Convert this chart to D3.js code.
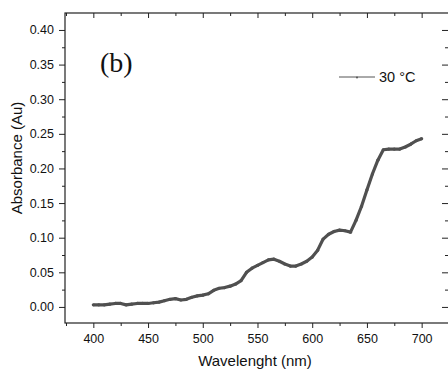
<!DOCTYPE html>
<html><head><meta charset="utf-8">
<script src="https://cdn.jsdelivr.net/npm/d3@7"></script>
<style>body{margin:0;background:#fff;overflow:hidden}svg{display:block}</style>
</head><body>
<script>
const wavelength = [400,405,410,415,420,425,430,435,440,445,450,455,460,465,470,475,480,485,490,495,500,505,510,515,520,525,530,535,540,545,550,555,560,565,570,575,580,585,590,595,600,605,610,615,620,625,630,635,640,645,650,655,660,665,670,675,680,685,690,695,700];
const absorbance = [0.003,0.003,0.003,0.004,0.005,0.005,0.003,0.004,0.005,0.005,0.005,0.006,0.007,0.009,0.011,0.012,0.010,0.011,0.014,0.016,0.017,0.019,0.024,0.027,0.028,0.030,0.033,0.038,0.050,0.056,0.060,0.064,0.068,0.069,0.066,0.062,0.059,0.059,0.062,0.066,0.072,0.082,0.098,0.105,0.109,0.111,0.110,0.108,0.125,0.145,0.169,0.192,0.212,0.227,0.228,0.228,0.228,0.231,0.235,0.240,0.243];
const xTicks = [400,450,500,550,600,650,700];
const xMinor = [375,425,475,525,575,625,675];
const yTicks = [0.00,0.05,0.10,0.15,0.20,0.25,0.30,0.35,0.40];
const yMinor = [0.025,0.075,0.125,0.175,0.225,0.275,0.325,0.375];
const seriesName = "30 °C";

const W = 448, H = 370;
const L = 65, R = 449, T = 13, B = 323;
const svg = d3.select("body").append("svg").attr("width", W).attr("height", H);
const x = d3.scaleLinear().domain([374.1, 725.0]).range([L, R]);
const y = d3.scaleLinear().domain([-0.0232, 0.4245]).range([B, T]);
const font = "'Liberation Sans', Arial, sans-serif";
const col = "#222";

function styleAxis(g){
  g.select(".domain").remove();
  g.selectAll("line").attr("stroke", col);
  g.selectAll("text").attr("font-family", font).attr("font-size", "12.5px").attr("fill", "#111");
}

// bottom
svg.append("g").attr("transform", `translate(0,${B})`)
  .call(d3.axisBottom(x).tickValues(xTicks).tickSize(5).tickPadding(6).tickFormat(d3.format("d"))).call(styleAxis);
svg.append("g").attr("transform", `translate(0,${B})`)
  .call(d3.axisBottom(x).tickValues(xMinor).tickSize(3).tickFormat("")).call(styleAxis);
// top (inward)
svg.append("g").attr("transform", `translate(0,${T})`)
  .call(d3.axisBottom(x).tickValues(xTicks).tickSize(5).tickFormat("")).call(styleAxis);
svg.append("g").attr("transform", `translate(0,${T})`)
  .call(d3.axisBottom(x).tickValues(xMinor).tickSize(3).tickFormat("")).call(styleAxis);
// left
svg.append("g").attr("transform", `translate(${L},0)`)
  .call(d3.axisLeft(y).tickValues(yTicks).tickSize(6).tickPadding(5).tickFormat(d3.format(".2f"))).call(styleAxis);
svg.append("g").attr("transform", `translate(${L},0)`)
  .call(d3.axisLeft(y).tickValues(yMinor).tickSize(3).tickFormat("")).call(styleAxis);
// right (inward)
svg.append("g").attr("transform", `translate(${R},0)`)
  .call(d3.axisLeft(y).tickValues(yTicks).tickSize(7).tickFormat("")).call(styleAxis);
svg.append("g").attr("transform", `translate(${R},0)`)
  .call(d3.axisLeft(y).tickValues(yMinor).tickSize(4).tickFormat("")).call(styleAxis);

// frame
svg.append("rect").attr("x", L).attr("y", T).attr("width", R - L).attr("height", B - T)
  .attr("fill", "none").attr("stroke", col).attr("stroke-width", 1.2);

// data
const data = wavelength.map((w, i) => ({w, a: absorbance[i]}));
svg.append("path").datum(data)
  .attr("d", d3.line().x(d => x(d.w)).y(d => y(d.a)))
  .attr("fill", "none").attr("stroke", "#505050").attr("stroke-width", 3.2).attr("stroke-linejoin", "round");
svg.append("g").selectAll("circle").data(data).join("circle")
  .attr("cx", d => x(d.w)).attr("cy", d => y(d.a)).attr("r", 1.6).attr("fill", "#505050");

// panel label
svg.append("text").attr("x", 100).attr("y", 72).text("(b)")
  .attr("font-family", "'Liberation Serif', 'Times New Roman', serif").attr("font-size", "28px").attr("fill", "#111");

// legend
svg.append("line").attr("x1", 339).attr("x2", 375).attr("y1", 77).attr("y2", 77).attr("stroke", "#555").attr("stroke-width", 1);
svg.append("circle").attr("cx", 357).attr("cy", 77.5).attr("r", 1).attr("fill", "#555");
svg.append("text").attr("x", 379).attr("y", 82).text(seriesName)
  .attr("font-family", font).attr("font-size", "14.5px").attr("fill", "#111");

// axis titles
svg.append("text").attr("x", 255).attr("y", 366).attr("text-anchor", "middle").text("Wavelenght (nm)")
  .attr("font-family", font).attr("font-size", "15px").attr("fill", "#111");
svg.append("text").attr("transform", `translate(22,158) rotate(-90)`).attr("text-anchor", "middle").text("Absorbance (Au)")
  .attr("font-family", font).attr("font-size", "15px").attr("fill", "#111");
</script>
</body></html>
